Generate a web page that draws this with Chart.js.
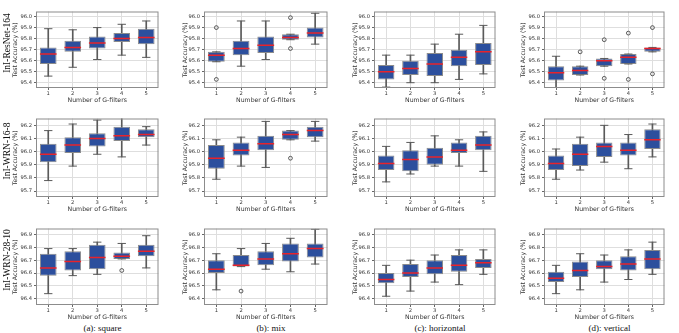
<!DOCTYPE html>
<html><head><meta charset="utf-8">
<script src="https://cdn.jsdelivr.net/npm/chart.js@4"></script>
<style>
body{margin:0;background:#fff;width:679px;height:333px;overflow:hidden;position:relative}
canvas{position:absolute}
.rowlab{position:absolute;font-family:'Liberation Serif';font-size:9.5px;white-space:nowrap;color:#111;transform:translate(-50%,-50%) rotate(-90deg)}
.cap{position:absolute;font-family:'Liberation Serif';font-size:9px;white-space:nowrap;color:#111;transform:translate(-50%,-50%)}
</style>
</head><body>
<script>
// ---- data: each box = [whisker low, Q1, median, Q3, whisker high] ----
const categories = ['1','2','3','4','5'];
const rowNames = ['InI-ResNet-164','InI-WRN-16-8','InI-WRN-28-10'];
const colNames = ['(a): square','(b): mix','(c): horizontal','(d): vertical'];
const yAxisTitle = 'Test Accuracy (%)';
const xAxisTitle = 'Number of G-filters';

const resnetSquare = [[95.46,95.57,95.66,95.72,95.89],[95.54,95.68,95.72,95.78,95.88],[95.61,95.71,95.76,95.82,95.90],[95.65,95.77,95.80,95.85,95.93],[95.63,95.75,95.81,95.89,95.96]];
const resnetMix    = [[95.59,95.59,95.65,95.68,95.68],[95.55,95.65,95.71,95.78,95.96],[95.61,95.67,95.74,95.82,95.96],[95.79,95.79,95.81,95.84,95.84],[95.75,95.81,95.85,95.90,96.03]];
const resnetHoriz  = [[95.36,95.43,95.50,95.56,95.65],[95.40,95.47,95.53,95.60,95.65],[95.40,95.46,95.57,95.67,95.75],[95.43,95.55,95.63,95.70,95.84],[95.48,95.56,95.68,95.76,95.92]];
const resnetVert   = [[95.34,95.42,95.49,95.55,95.64],[95.47,95.47,95.51,95.55,95.55],[95.55,95.55,95.60,95.62,95.62],[95.57,95.57,95.63,95.66,95.66],[95.68,95.68,95.71,95.72,95.72]];

const wrn16Square = [[95.78,95.92,95.98,96.06,96.16],[95.89,95.99,96.05,96.11,96.21],[95.98,96.04,96.10,96.14,96.24],[95.96,96.08,96.12,96.19,96.26],[96.05,96.11,96.13,96.17,96.19]];
const wrn16Mix    = [[95.79,95.87,95.95,96.05,96.09],[95.89,95.97,96.01,96.07,96.11],[95.88,96.01,96.06,96.12,96.23],[96.09,96.09,96.13,96.16,96.16],[96.08,96.11,96.16,96.19,96.23]];
const wrn16Horiz  = [[95.77,95.86,95.91,95.97,96.04],[95.83,95.85,95.94,96.01,96.07],[95.89,95.90,95.96,96.03,96.12],[95.89,95.99,96.01,96.07,96.09],[95.85,96.01,96.05,96.12,96.15]];
const wrn16Vert   = [[95.79,95.86,95.91,95.97,96.02],[95.86,95.89,95.98,96.06,96.11],[95.92,95.96,96.04,96.07,96.20],[95.87,95.97,96.01,96.07,96.13],[95.96,96.02,96.09,96.17,96.21]];

const wrn28Square = [[96.44,96.58,96.64,96.75,96.79],[96.58,96.62,96.69,96.77,96.79],[96.59,96.63,96.72,96.82,96.84],[96.71,96.71,96.73,96.76,96.83],[96.64,96.73,96.77,96.82,96.89]];
const wrn28Mix    = [[96.47,96.60,96.63,96.70,96.75],[96.65,96.65,96.66,96.74,96.79],[96.63,96.66,96.71,96.77,96.83],[96.61,96.69,96.75,96.83,96.87],[96.67,96.72,96.79,96.83,96.94]];
const wrn28Horiz  = [[96.42,96.52,96.55,96.60,96.66],[96.46,96.57,96.60,96.67,96.70],[96.53,96.59,96.64,96.70,96.74],[96.51,96.61,96.66,96.74,96.78],[96.59,96.64,96.68,96.71,96.78]];
const wrn28Vert   = [[96.44,96.53,96.56,96.61,96.66],[96.47,96.57,96.62,96.69,96.75],[96.53,96.63,96.65,96.70,96.74],[96.55,96.62,96.67,96.73,96.78],[96.59,96.63,96.71,96.78,96.84]];

// outliers: [category number, value]
const resnetMixOut  = [[1,95.90],[1,95.43],[4,95.99],[4,95.71]];
const resnetVertOut = [[2,95.68],[3,95.79],[3,95.44],[4,95.85],[4,95.43],[5,95.90],[5,95.48]];
const wrn16MixOut   = [[4,95.95]];
const wrn28SquareOut= [[4,96.62]];
const wrn28MixOut   = [[2,96.46]];

const row1Ticks = [95.4,95.5,95.6,95.7,95.8,95.9,96.0];
const row2Ticks = [95.7,95.8,95.9,96.0,96.1,96.2];
const row3Ticks = [96.4,96.5,96.6,96.7,96.8,96.9];
const rowRanges = [[95.352,96.046],[95.655,96.252],[96.352,96.946]];

// ---- layout ----
const rowTop = [1,108,218], rowBot = [88,197,305];
const plotL = [36,204,374,544], plotR = [169,338,506,675];
const canvL = [10,180,350,518];
const XH = 16;
const BOX='#2c4f9d', EDGE='#8c8c8c', WHISK='#5a5a5a', MED='#e8232b', GRID='#dedede', SPINE='#8c8c8c', TXT='#333';
const FAM = "'DejaVu Sans'";

const panels = [
  [[resnetSquare,[]],[resnetMix,resnetMixOut],[resnetHoriz,[]],[resnetVert,resnetVertOut]],
  [[wrn16Square,[]],[wrn16Mix,wrn16MixOut],[wrn16Horiz,[]],[wrn16Vert,[]]],
  [[wrn28Square,wrn28SquareOut],[wrn28Mix,wrn28MixOut],[wrn28Horiz,[]],[wrn28Vert,[]]]
];
const rowTicks = [row1Ticks,row2Ticks,row3Ticks];

const frame = {id:'frame', afterDatasetsDraw(chart){
  const a = chart.chartArea, c = chart.ctx;
  c.save(); c.strokeStyle = SPINE; c.lineWidth = 1;
  c.strokeRect(a.left+0.5, a.top+0.5, a.right-a.left-1, a.bottom-a.top-1);
  c.restore();
}};

const BOXFRAC = 0.68;
const halfBox = ctx => { const a = ctx.chart.chartArea; return a ? (a.right-a.left)/5*BOXFRAC/2 : 9; };
const halfCap = ctx => halfBox(ctx)*0.5;

function makeChart(r, c){
  const [stats, outs] = panels[r][c];
  const cv = document.createElement('canvas');
  const w = plotR[c]-canvL[c], h = rowBot[r]-rowTop[r]+XH;
  cv.width = w; cv.height = h;
  cv.style.left = canvL[c]+'px'; cv.style.top = rowTop[r]+'px';
  cv.style.width = w+'px'; cv.style.height = h+'px';
  document.body.appendChild(cv);
  const yw = plotL[c]-canvL[c];
  const ticks = rowTicks[r];
  new Chart(cv, {
    type:'bar',
    data:{labels:categories, datasets:[
      {type:'bar', data:stats.map(s=>[s[0],s[4]]), backgroundColor:WHISK, barThickness:1, grouped:false, order:5},
      {type:'bar', data:stats.map(s=>[s[1],s[3]]), backgroundColor:BOX, borderColor:EDGE, borderWidth:1, borderSkipped:false,
        barPercentage:BOXFRAC, categoryPercentage:1, grouped:false, order:4},
      {type:'line', data:stats.map((s,i)=>({x:categories[i],y:s[4]})).concat(stats.map((s,i)=>({x:categories[i],y:s[0]}))),
        showLine:false, pointStyle:'line', radius:halfCap, borderColor:WHISK, borderWidth:1, order:3},
      {type:'line', data:stats.map((s,i)=>({x:categories[i],y:s[2]})), showLine:false, pointStyle:'line', radius:halfBox,
        borderColor:MED, borderWidth:1.5, order:2},
      {type:'line', data:outs.map(o=>({x:categories[o[0]-1],y:o[1]})), showLine:false, pointStyle:'circle', radius:1.9,
        borderColor:'#333', backgroundColor:'rgba(0,0,0,0)', borderWidth:0.8, order:1}
    ]},
    options:{
      responsive:false, animation:false, devicePixelRatio:1, events:[],
      layout:{padding:0},
      plugins:{legend:{display:false}, tooltip:{enabled:false}},
      scales:{
        x:{type:'category', offset:true,
          grid:{offset:false, color:GRID, lineWidth:1, drawTicks:true, tickLength:2, tickColor:'#666'},
          border:{display:false},
          ticks:{font:{family:FAM,size:5.2}, color:TXT, padding:1, maxRotation:0, autoSkip:false},
          title:{display:true, text:xAxisTitle, font:{family:FAM,size:6.2}, color:TXT, padding:0},
          afterFit:s=>{s.height=XH; s.paddingLeft=0; s.paddingRight=0;}
        },
        y:{type:'linear', min:rowRanges[r][0], max:rowRanges[r][1],
          grid:{color:GRID, lineWidth:1, drawTicks:true, tickLength:2, tickColor:'#666'},
          border:{display:false},
          ticks:{font:{family:FAM,size:5.2}, color:TXT, padding:2, callback:v=>Number(v).toFixed(1)},
          afterBuildTicks:s=>{ s.ticks = ticks.map(v=>({value:v})); },
          title:{display:true, text:yAxisTitle, font:{family:FAM,size:6.2}, color:TXT, padding:{top:1.4,bottom:0}},
          afterFit:s=>{s.width=yw; s.paddingTop=0; s.paddingBottom=0;}
        }
      }
    },
    plugins:[frame]
  });
}

for (let r=0;r<3;r++) for (let c=0;c<4;c++) makeChart(r,c);

rowNames.forEach((t,r)=>{
  const d=document.createElement('div'); d.className='rowlab'; d.textContent=t;
  d.style.left='7px'; d.style.top=((rowTop[r]+rowBot[r])/2-2)+'px';
  document.body.appendChild(d);
});
colNames.forEach((t,c)=>{
  const d=document.createElement('div'); d.className='cap'; d.textContent=t;
  d.style.left=((plotL[c]+plotR[c])/2)+'px'; d.style.top='328px';
  document.body.appendChild(d);
});
</script>
</body></html>
